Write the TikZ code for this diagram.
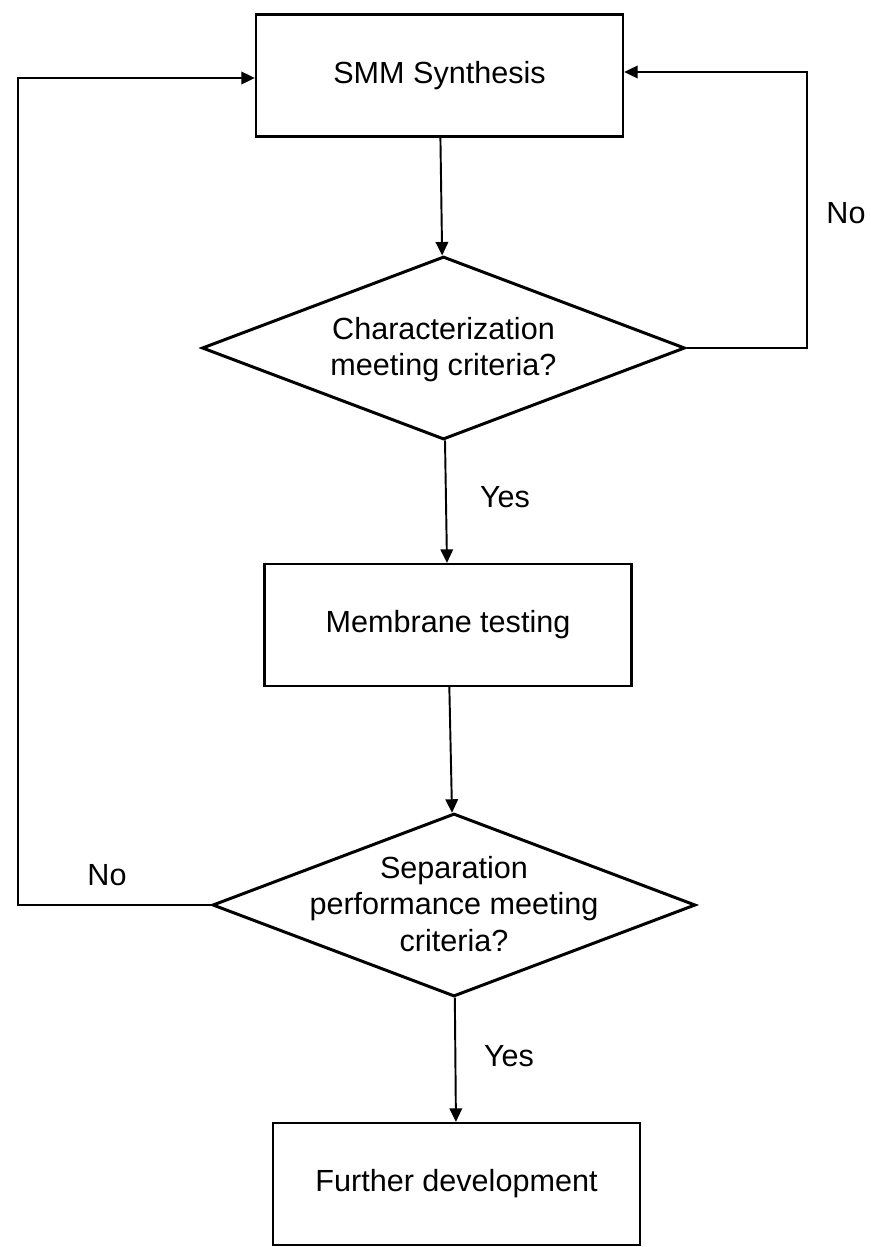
\documentclass[tikz,border=0pt]{standalone}
\usepackage{fontspec}
\setmainfont{Liberation Sans}
\usepackage{tikz}
\usetikzlibrary{arrows.meta,shapes.geometric}
\newcommand{\decisiontext}[1]{\smash{\raisebox{-0.2cm}{\begin{tabular}{@{}c@{}}#1\end{tabular}}}}

\begin{document}
\begin{tikzpicture}[
  every node/.style={font=\fontsize{17.4}{20.8}\selectfont},
  procbox/.style={draw,line width=1.3pt,minimum width=7.34cm,minimum height=2.44cm,inner sep=0pt},
  decision/.style={draw,diamond,aspect=2.64,line width=1.7pt,minimum width=9.66cm,minimum height=3.66cm,inner sep=0pt},
  flowarrow/.style={line width=1.1pt,-{Triangle[length=0.27cm,width=0.25cm]}},
  answer/.style={inner sep=0pt}]
\useasboundingbox (0,0) rectangle (17.42,-24.94); % page size
\node[procbox] (synth) at (8.79,-1.51) {SMM Synthesis};
\node[decision] (charq) at (8.87,-6.96) {\decisiontext{Characterization\\meeting criteria?}};
\node[procbox] (memtest) at (8.96,-12.5) {Membrane testing};
\node[decision] (sepq) at (9.08,-18.1) {\decisiontext{Separation\\performance meeting\\criteria?}};
\node[procbox] (further) at (9.13,-23.68) {Further development};
\foreach \a/\b in {synth/charq,charq/memtest,memtest/sepq,sepq/further} % main flow
\draw[flowarrow] (\a) -- (\b);
\coordinate (rloop) at (16.14,-1.44);
\coordinate (lloop) at (0.36,-1.56);
\draw[flowarrow] (charq.east) -- (charq.east -| rloop) -- (rloop) -- (rloop -| synth.east);
\draw[flowarrow] (sepq.west) -- (sepq.west -| lloop) -- (lloop) -- (lloop -| synth.west);
\node[answer] (yes1) at (10.1,-9.94) {Yes};
\node[answer] (yes2) at (10.18,-21.12) {Yes};
\node[answer] (no1) at (16.92,-4.26) {No};
\node[answer] (no2) at (2.14,-17.5) {No};
\end{tikzpicture}
\end{document}
